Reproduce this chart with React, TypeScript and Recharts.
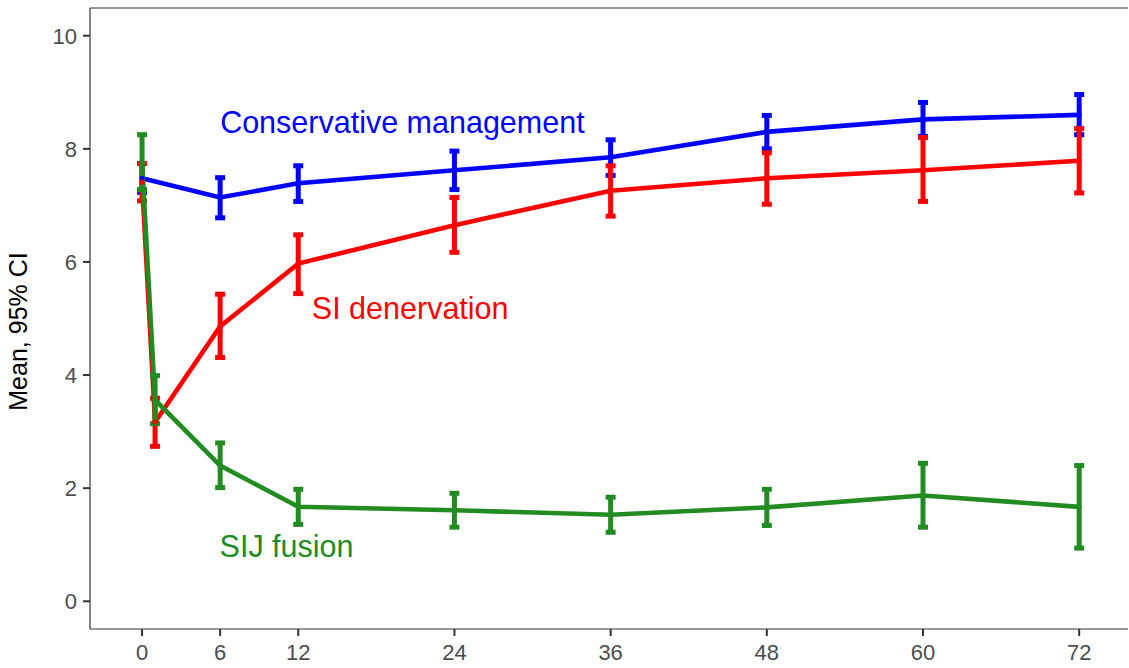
import React from 'react'
import {
  LineChart, Line, XAxis, YAxis, ErrorBar, ReferenceLine, ReferenceDot,
} from 'recharts'

const xTicks = [0, 6, 12, 24, 36, 48, 60, 72]
const yTicks = [0, 2, 4, 6, 8, 10]

// Conservative management (no 1-month visit)
const consMonths = [0, 6, 12, 24, 36, 48, 60, 72]
const consMean = [7.48, 7.14, 7.39, 7.62, 7.85, 8.3, 8.52, 8.6]
const consLo = [7.23, 6.78, 7.07, 7.28, 7.53, 8.0, 8.22, 8.25]
const consHi = [7.74, 7.49, 7.7, 7.96, 8.16, 8.59, 8.82, 8.96]

// SI denervation
const denMonths = [0, 1, 6, 12, 24, 36, 48, 60, 72]
const denMean = [7.41, 3.17, 4.86, 5.97, 6.65, 7.26, 7.48, 7.62, 7.79]
const denLo = [7.08, 2.74, 4.31, 5.44, 6.17, 6.81, 7.02, 7.07, 7.22]
const denHi = [7.74, 3.59, 5.43, 6.48, 7.14, 7.7, 7.93, 8.2, 8.36]

// SIJ fusion
const fusMonths = [0, 1, 6, 12, 24, 36, 48, 60, 72]
const fusMean = [7.76, 3.56, 2.4, 1.67, 1.61, 1.53, 1.66, 1.87, 1.67]
const fusLo = [7.28, 3.14, 2.01, 1.36, 1.31, 1.22, 1.34, 1.31, 0.94]
const fusHi = [8.25, 3.99, 2.8, 1.98, 1.91, 1.84, 1.98, 2.44, 2.4]

const build = (months: number[], mean: number[], lo: number[], hi: number[]) =>
  months.map((m, i) => ({
    month: m,
    mean: mean[i],
    err: [mean[i] - lo[i], hi[i] - mean[i]],
  }))

const series = [
  { name: 'Conservative management', color: '#0000ff', data: build(consMonths, consMean, consLo, consHi), lx: 20, ly: 8.48 },
  { name: 'SI denervation', color: '#ff0000', data: build(denMonths, denMean, denLo, denHi), lx: 20.6, ly: 5.18 },
  { name: 'SIJ fusion', color: '#228b22', data: build(fusMonths, fusMean, fusLo, fusHi), lx: 11.1, ly: 0.97 },
]

const FONT = '"Liberation Sans", Arial, Helvetica, sans-serif'
const Y_MIN = -0.49
const Y_MAX = 10.49

export default function App() {
  return (
    <div style={{ fontFamily: FONT }}>
      <style>{'body{margin:0}'}</style>
      <LineChart width={1129} height={668} margin={{ top: 8, right: 1, bottom: 0, left: 0 }}>
        <XAxis
          dataKey="month"
          type="number"
          domain={[-4, 75.75]}
          ticks={xTicks}
          allowDataOverflow
          height={39}
          axisLine={{ stroke: '#333333', strokeWidth: 1.2 }}
          tickLine={{ stroke: '#333333', strokeWidth: 2 }}
          tickSize={7}
          tickMargin={8}
          tick={{ fill: '#4d4d4d', fontSize: 22, fontFamily: FONT }}
        />
        <YAxis
          type="number"
          domain={[Y_MIN, Y_MAX]}
          ticks={yTicks}
          allowDataOverflow
          width={90}
          axisLine={{ stroke: '#333333', strokeWidth: 1.2 }}
          tickLine={{ stroke: '#333333', strokeWidth: 2 }}
          tickSize={7}
          tickMargin={6}
          tick={{ fill: '#4d4d4d', fontSize: 22, fontFamily: FONT }}
          label={{
            value: 'Mean, 95% CI',
            angle: -90,
            position: 'center',
            dx: -27,
            dy: 13,
            fill: '#000000',
            fontSize: 25,
            fontFamily: FONT,
          }}
        />
        <ReferenceLine y={Y_MAX} stroke="#333333" strokeWidth={1.2} />
        {series.map((s) => (
          <Line
            key={s.name}
            data={s.data}
            dataKey="mean"
            name={s.name}
            stroke={s.color}
            strokeWidth={4.6}
            dot={{ r: 2.6, fill: s.color, stroke: s.color, strokeWidth: 0 }}
            activeDot={false}
            isAnimationActive={false}
          >
            <ErrorBar
              dataKey="err"
              direction="y"
              width={5}
              stroke={s.color}
              strokeWidth={5}
              isAnimationActive={false}
            />
          </Line>
        ))}
        {series.map((s) => (
          <ReferenceDot
            key={'lbl-' + s.name}
            x={s.lx}
            y={s.ly}
            r={0}
            fill="none"
            stroke="none"
            label={{
              value: s.name,
              position: 'center',
              fill: s.color,
              fontSize: 30.5,
              fontFamily: FONT,
            }}
          />
        ))}
      </LineChart>
    </div>
  )
}
